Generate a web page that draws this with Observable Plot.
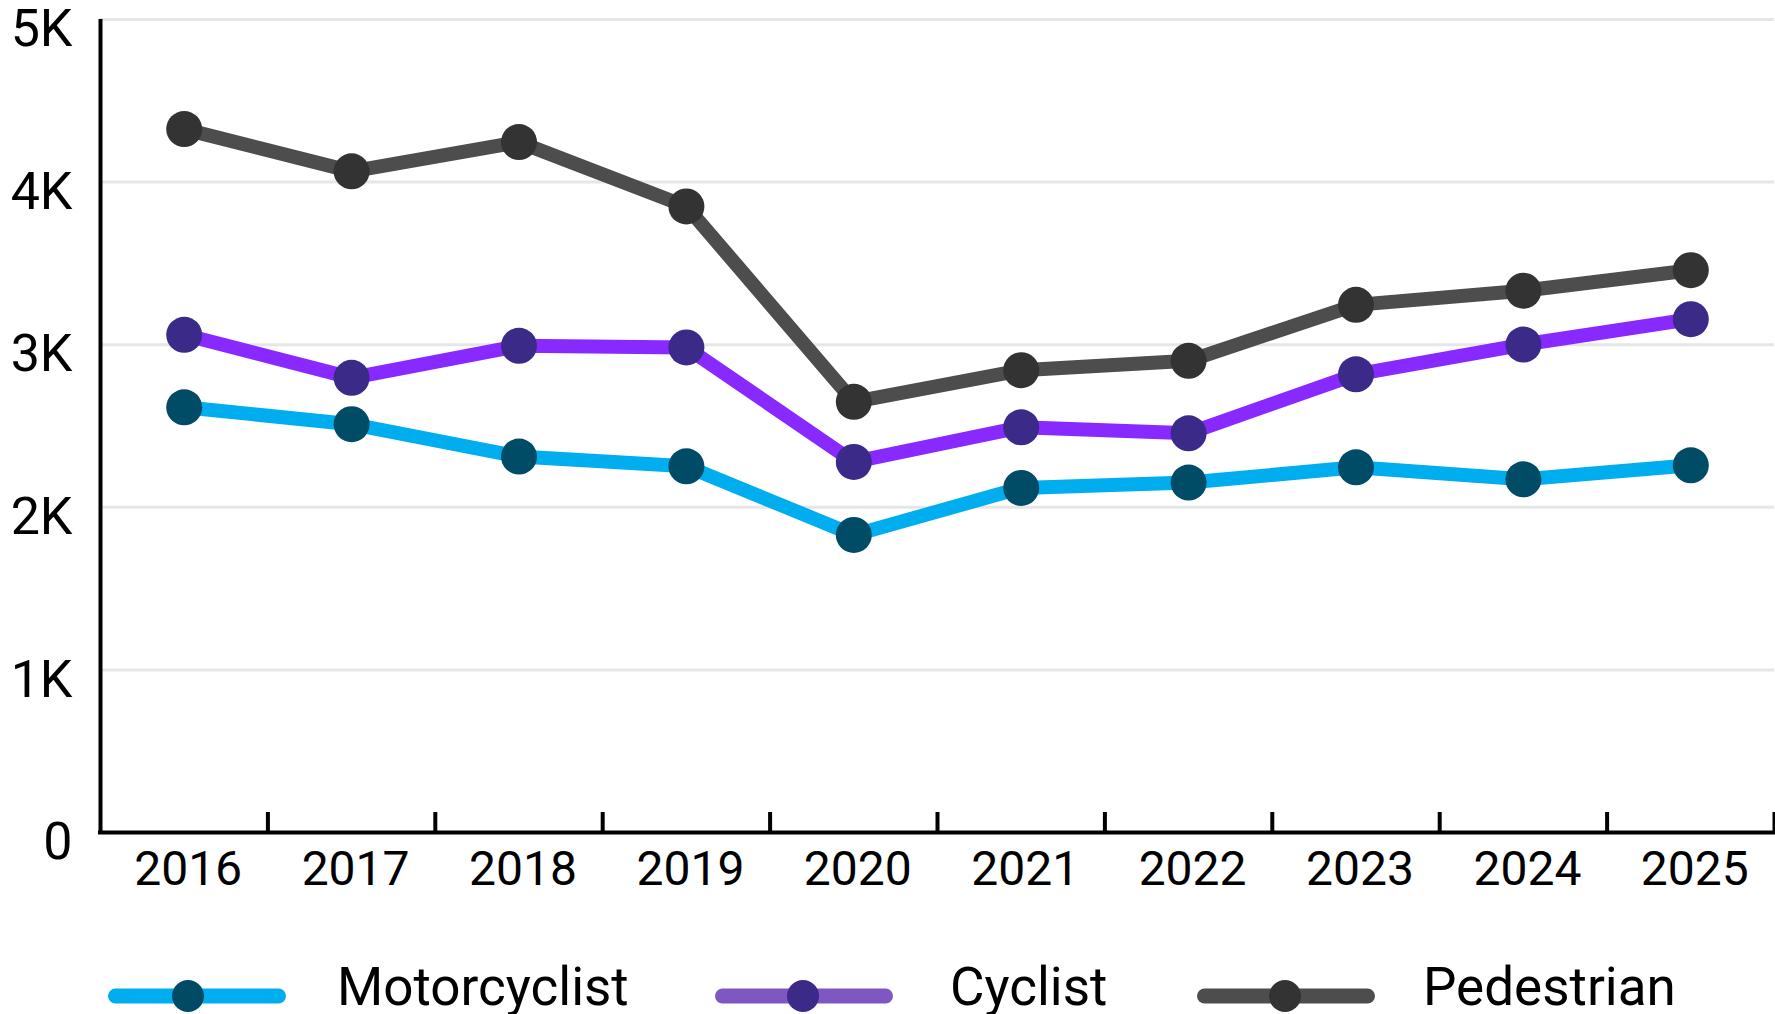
<!DOCTYPE html>
<html>
<head>
<meta charset="utf-8">
<script src="https://cdn.jsdelivr.net/npm/d3@7"></script>
<script src="https://cdn.jsdelivr.net/npm/@observablehq/plot@0.6"></script>
<style>
  html, body { margin: 0; padding: 0; background: #ffffff; }
  body { font-family: Roboto, "Noto Sans", sans-serif; color: #000; width: 1775px; height: 1014px; overflow: hidden; }
  #chart svg, #legend svg { display: block; }
</style>
</head>
<body>
<div id="chart"></div>
<div id="legend"></div>
<script>
// ---- Data ----
const years = [2016, 2017, 2018, 2019, 2020, 2021, 2022, 2023, 2024, 2025];
const motorcyclist = [2615, 2511, 2312, 2252, 1830, 2119, 2152, 2246, 2172, 2258];
const cyclist      = [3061, 2796, 2993, 2983, 2279, 2492, 2455, 2818, 3001, 3157];
const pedestrian   = [4326, 4066, 4246, 3850, 2649, 2843, 2901, 3245, 3332, 3458];
const seriesNames = ["Motorcyclist", "Cyclist", "Pedestrian"];
const yTicks = [0, 1000, 2000, 3000, 4000, 5000];

// ---- Styles ----
const lineColors = ["#00AEEF", "#8729FF", "#4D4D4D"];
const dotColors = ["#004B66", "#3B2A88", "#333333"];
const legendLineColors = ["#00AEEF", "#7E57C2", "#4D4D4D"];
const legendDotColors = ["#004A63", "#3B2A88", "#333333"];

const seriesValues = [motorcyclist, cyclist, pedestrian];
const rows = seriesNames.map((name, i) => years.map((year, j) => ({series: name, year, value: seriesValues[i][j]})));
const boundaries = years.map(y => y + 0.5); // band edges for x tick marks

const W = 1775, H = 920;

const seriesMarks = rows.flatMap((data, i) => [
  Plot.line(data, {x: "year", y: "value", stroke: lineColors[i], strokeWidth: 14, strokeLinejoin: "round", strokeLinecap: "round"}),
  Plot.dot(data, {x: "year", y: "value", r: 18, fill: dotColors[i], stroke: "none"})
]);

const chart = Plot.plot({
  width: W,
  height: H,
  marginLeft: 100,
  marginRight: 1,
  marginTop: 19,
  marginBottom: 88,
  style: {fontFamily: "Roboto, 'Noto Sans', sans-serif", background: "#ffffff", color: "#000", overflow: "visible"},
  x: {type: "linear", domain: [years[0] - 0.5, years[years.length - 1] + 0.5], label: null},
  y: {domain: [yTicks[0], yTicks[yTicks.length - 1]], label: null},
  marks: [
    Plot.gridY(yTicks.filter(d => d > 0), {stroke: "#E6E6E6", strokeOpacity: 1, strokeWidth: 3}),
    Plot.axisY(yTicks, {
      label: null, tickSize: 0, tickPadding: 28, fontSize: 52, dy: 10, fill: "#000",
      tickFormat: d => d === 0 ? "0" : (d / 1000) + "K"
    }),
    Plot.axisX(years, {
      label: null, tickSize: 0, tickPadding: 18, fontSize: 48, dx: 4, fill: "#000",
      tickFormat: d => String(d)
    }),
    ...seriesMarks,
    Plot.ruleX(boundaries, {x: d => d, y1: 0, y2: 0, insetTop: -20, stroke: "#000", strokeWidth: 4}),
    Plot.ruleX([years[0] - 0.5], {stroke: "#000", strokeWidth: 4}),
    Plot.ruleY([0], {stroke: "#000", strokeWidth: 4, strokeLinecap: "square"})
  ]
});
document.getElementById("chart").appendChild(chart);

// ---- Legend (below the chart) ----
const legendH = 1014 - H;
const swatchX = [108, 715, 1197];
const swatchW = 178;
const dotOffset = [80, 88, 88];
const textX = [337, 950, 1423];
const svg = d3.create("svg").attr("width", W).attr("height", legendH)
  .style("font-family", "Roboto, 'Noto Sans', sans-serif");
seriesNames.forEach((name, i) => {
  const cy = 76;
  svg.append("line")
    .attr("x1", swatchX[i] + 7.5).attr("x2", swatchX[i] + swatchW - 7.5)
    .attr("y1", cy).attr("y2", cy)
    .attr("stroke", legendLineColors[i]).attr("stroke-width", 15).attr("stroke-linecap", "round");
  svg.append("circle")
    .attr("cx", swatchX[i] + dotOffset[i]).attr("cy", cy).attr("r", 16)
    .attr("fill", legendDotColors[i]);
  svg.append("text")
    .attr("x", textX[i]).attr("y", 85)
    .attr("font-size", 53).attr("fill", "#000")
    .text(name);
});
document.getElementById("legend").appendChild(svg.node());
</script>
</body>
</html>
